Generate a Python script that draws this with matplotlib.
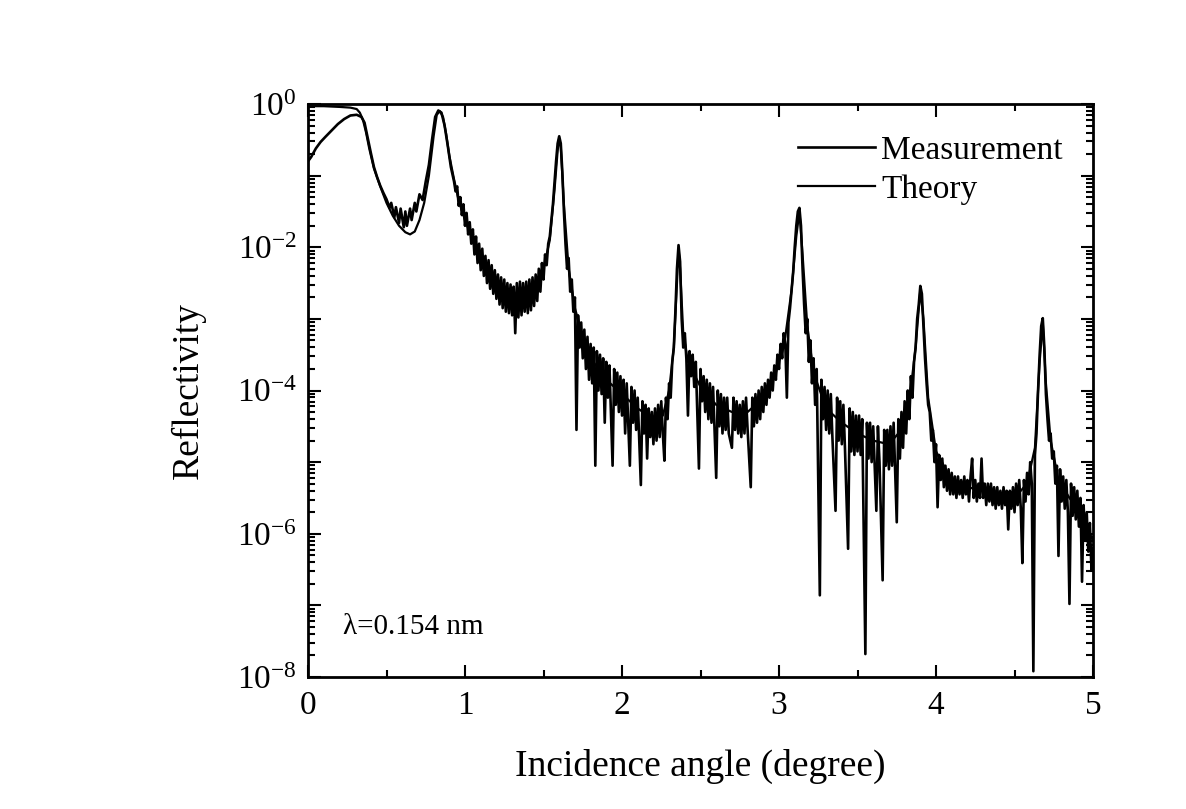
import numpy as np
import matplotlib
matplotlib.use("Agg")
import matplotlib.pyplot as plt
from matplotlib.ticker import LogLocator, FixedLocator, FuncFormatter, NullFormatter

plt.rcParams['font.family'] = ['Liberation Serif', 'DejaVu Serif']
plt.rcParams['mathtext.fontset'] = 'custom'
plt.rcParams['mathtext.rm'] = 'Liberation Serif'
plt.rcParams['mathtext.it'] = 'Liberation Serif:italic'

meas_angle = [
    0.00, 0.02, 0.05, 0.08, 0.11, 0.15, 0.19, 0.23, 0.27, 0.31, 0.34, 0.36,
    0.38, 0.40, 0.42, 0.44, 0.46, 0.48, 0.50, 0.52, 0.53, 0.55, 0.56, 0.58, 0.59, 0.61, 0.62, 0.63,
    0.65, 0.66, 0.68, 0.69, 0.71, 0.73, 0.75, 0.77, 0.79, 0.81, 0.83, 0.85, 0.87, 0.89, 0.91, 0.93,
    0.94, 0.95, 0.96, 0.97, 0.98, 0.99, 1.00, 1.01, 1.02, 1.03, 1.04, 1.05, 1.06, 1.07, 1.08, 1.09,
    1.10, 1.11, 1.12, 1.13, 1.14, 1.15, 1.16, 1.17, 1.18, 1.19, 1.20, 1.21, 1.22, 1.23, 1.24, 1.25,
    1.26, 1.27, 1.28, 1.29, 1.30, 1.31, 1.32, 1.33, 1.34, 1.35, 1.36, 1.37, 1.38, 1.39, 1.40, 1.41,
    1.42, 1.43, 1.44, 1.45, 1.46, 1.47, 1.48, 1.49, 1.50, 1.51, 1.52, 1.53, 1.54, 1.55, 1.56, 1.57,
    1.58, 1.59, 1.60, 1.61, 1.62, 1.63, 1.64,
    1.65, 1.66, 1.67, 1.68, 1.69, 1.70, 1.71, 1.72, 1.73, 1.74, 1.75, 1.76, 1.77, 1.78, 1.79, 1.80,
    1.81, 1.82, 1.83, 1.84, 1.85, 1.86, 1.87, 1.88, 1.89, 1.90, 1.91, 1.92, 1.94, 1.95, 1.96, 1.97,
    1.98, 1.99, 2.00, 2.01, 2.02, 2.03, 2.05, 2.06, 2.07, 2.08, 2.09, 2.10, 2.12, 2.13, 2.14, 2.15,
    2.16, 2.17, 2.18, 2.19, 2.20, 2.21, 2.22, 2.23, 2.24, 2.25, 2.26, 2.27, 2.28, 2.29, 2.30, 2.31,
    2.32, 2.33, 2.34, 2.35, 2.36, 2.37, 2.38, 2.39,
    2.40, 2.41, 2.42, 2.43, 2.44, 2.45, 2.46, 2.47, 2.49, 2.50, 2.51, 2.52, 2.53, 2.54, 2.55, 2.56,
    2.57, 2.58, 2.59, 2.60, 2.61, 2.62, 2.63, 2.64, 2.65, 2.66, 2.67, 2.68, 2.70, 2.71, 2.72, 2.73,
    2.74, 2.75, 2.76, 2.77, 2.78, 2.79, 2.80, 2.82, 2.83, 2.84, 2.85, 2.86, 2.87, 2.88, 2.89, 2.90,
    2.91, 2.92, 2.93, 2.94, 2.95, 2.96, 2.97, 2.98, 2.99, 3.00, 3.01, 3.02, 3.03, 3.04, 3.05, 3.06,
    3.07, 3.08, 3.09, 3.10, 3.11, 3.12, 3.13, 3.14, 3.15, 3.16, 3.17, 3.18, 3.19, 3.20,
    3.21, 3.22, 3.23, 3.24, 3.26, 3.27, 3.28, 3.29, 3.30, 3.31, 3.32, 3.33, 3.34, 3.36, 3.37, 3.38,
    3.39, 3.40, 3.41, 3.42, 3.44, 3.45, 3.46, 3.47, 3.48, 3.49, 3.50, 3.51, 3.52, 3.53, 3.55, 3.56,
    3.57, 3.58, 3.59, 3.60, 3.62, 3.63, 3.64, 3.66, 3.67, 3.68, 3.69, 3.70, 3.71, 3.72, 3.73, 3.75,
    3.76, 3.77, 3.78, 3.79, 3.80, 3.81, 3.82, 3.83, 3.84, 3.85, 3.86, 3.87, 3.88, 3.89, 3.90, 3.91,
    3.92, 3.93, 3.94, 3.95, 3.96, 3.97, 3.98, 3.99, 4.00, 4.01, 4.02,
    4.03, 4.04, 4.05, 4.06, 4.07, 4.08, 4.09, 4.10, 4.11, 4.12, 4.13, 4.14, 4.15, 4.16, 4.17, 4.18,
    4.19, 4.20, 4.21, 4.22, 4.23, 4.24, 4.25, 4.26, 4.27, 4.28, 4.29, 4.30, 4.31, 4.32, 4.33, 4.34,
    4.35, 4.36, 4.37, 4.38, 4.39, 4.40, 4.41, 4.42, 4.43, 4.44, 4.45, 4.46, 4.47, 4.48, 4.49, 4.50,
    4.51, 4.52, 4.53, 4.54, 4.55, 4.56, 4.57, 4.58, 4.59, 4.60, 4.61, 4.62, 4.63, 4.64, 4.65, 4.66,
    4.67, 4.68, 4.69, 4.70, 4.71, 4.72, 4.73, 4.74, 4.75,
    4.76, 4.77, 4.78, 4.79, 4.80, 4.81, 4.82, 4.83, 4.84, 4.85, 4.86, 4.87, 4.88, 4.89, 4.90, 4.91,
    4.92, 4.93, 4.94, 4.95, 4.96, 4.97, 4.98, 4.99, 5.00,
]
meas_log = [
    -0.80, -0.74, -0.62, -0.53, -0.46, -0.37, -0.28, -0.21, -0.16, -0.15, -0.18, -0.26,
    -0.47, -0.68, -0.88, -1.02, -1.14, -1.24, -1.33, -1.45, -1.38, -1.58, -1.44, -1.66, -1.46, -1.72, -1.50, -1.70,
    -1.46, -1.62, -1.38, -1.50, -1.26, -1.34, -1.08, -0.85, -0.50, -0.18, -0.09, -0.12, -0.30, -0.58, -0.88, -1.08,
    -1.22, -1.15, -1.42, -1.30, -1.55, -1.40, -1.70, -1.52, -1.82, -1.65, -1.95, -1.75, -2.10, -1.85, -2.22, -1.95,
    -2.32, -2.02, -2.40, -2.12, -2.50, -2.18, -2.58, -2.25, -2.65, -2.32, -2.72, -2.38, -2.80, -2.42, -2.85, -2.45,
    -2.90, -2.50, -2.92, -2.52, -2.95, -2.55, -3.20, -2.50, -2.98, -2.48, -2.95, -2.50, -2.90, -2.48, -2.92, -2.45,
    -2.88, -2.42, -2.82, -2.38, -2.75, -2.30, -2.62, -2.22, -2.45, -2.10, -2.25, -1.95, -1.85, -1.62, -1.40, -1.10,
    -0.80, -0.55, -0.45, -0.55, -0.95, -1.50, -1.95,
    -2.30, -2.15, -2.62, -2.45, -2.90, -2.70, -4.55, -2.95, -3.40, -3.05, -3.55, -3.15, -3.70, -3.25, -3.85, -3.35,
    -3.90, -3.40, -5.05, -3.45, -4.00, -3.50, -4.05, -3.55, -4.45, -3.60, -4.10, -3.65, -5.05, -3.70, -4.20, -3.75,
    -4.30, -3.80, -4.35, -3.85, -4.60, -3.90, -5.05, -3.95, -4.45, -4.00, -4.55, -4.10, -5.32, -4.15, -4.60, -4.20,
    -4.95, -4.25, -4.65, -4.30, -4.75, -4.25, -4.70, -4.20, -4.65, -4.15, -4.60, -4.98, -4.10, -4.40, -3.90, -4.10,
    -3.60, -3.40, -2.90, -2.30, -1.97, -2.20, -3.00, -3.40,
    -3.20, -3.56, -4.35, -3.45, -3.80, -3.50, -3.95, -3.60, -5.09, -3.70, -4.15, -3.80, -4.30, -3.85, -4.40, -3.90,
    -4.45, -3.95, -4.60, -5.22, -4.00, -4.50, -4.05, -4.60, -4.10, -4.55, -4.10, -4.60, -4.80, -4.10, -4.55, -4.15,
    -4.60, -4.20, -4.65, -4.15, -4.60, -4.10, -4.55, -5.35, -4.10, -4.50, -4.05, -4.45, -4.00, -4.40, -3.95, -4.30,
    -3.90, -4.20, -3.85, -4.10, -3.75, -4.00, -3.65, -3.85, -3.50, -3.70, -3.35, -3.55, -3.20, -3.35, -4.10, -3.05,
    -2.85, -2.60, -2.35, -2.00, -1.70, -1.50, -1.45, -1.70, -2.30, -2.80, -3.20, -3.00, -3.60, -3.30,
    -3.90, -3.55, -4.20, -3.70, -6.86, -3.85, -4.40, -3.95, -4.55, -4.00, -4.60, -4.05, -4.65, -5.68, -4.10, -4.70,
    -4.15, -4.75, -4.20, -4.80, -6.21, -4.25, -4.85, -4.30, -4.90, -4.35, -4.85, -4.35, -4.90, -4.40, -7.68, -4.45,
    -4.95, -4.45, -5.00, -4.50, -5.68, -4.50, -5.00, -6.65, -4.55, -5.05, -4.55, -5.10, -4.50, -5.05, -4.45, -5.84,
    -4.40, -4.95, -4.30, -4.80, -4.15, -4.60, -4.00, -4.40, -3.80, -4.10, -3.60, -3.40, -3.00, -2.80, -2.54, -2.65,
    -3.10, -3.55, -3.90, -4.20, -4.30, -4.70, -4.55, -5.00, -4.75, -5.63, -4.90,
    -5.25, -4.95, -5.35, -5.05, -5.40, -5.10, -5.45, -5.15, -5.45, -5.20, -5.50, -5.20, -5.45, -5.25, -5.50, -5.20,
    -5.45, -5.25, -5.55, -5.20, -4.95, -5.50, -5.25, -5.55, -5.30, -5.50, -4.95, -5.50, -5.30, -5.60, -5.30, -5.55,
    -5.30, -5.60, -5.35, -5.65, -5.35, -5.60, -5.40, -5.65, -5.35, -5.60, -5.40, -5.94, -5.40, -5.65, -5.35, -5.70,
    -5.30, -5.60, -5.25, -5.65, -6.41, -5.25, -5.55, -5.15, -5.45, -5.00, -5.30, -7.92, -4.90, -4.60, -4.00, -3.50,
    -3.10, -2.99, -3.40, -4.05, -4.40, -4.70, -4.60, -4.95, -4.85,
    -5.30, -5.05, -6.31, -5.10, -5.55, -5.20, -5.65, -5.25, -5.70, -6.98, -5.30, -5.75, -5.35, -5.80, -5.40, -5.90,
    -5.50, -6.67, -5.60, -6.10, -5.70, -6.25, -5.85, -6.50, -6.20,
]

# Theory curve
theo_angle = [
    0.00, 0.10, 0.20, 0.27, 0.31, 0.33, 0.35, 0.37, 0.39, 0.42, 0.46, 0.50, 0.54, 0.58, 0.62, 0.65,
    0.68, 0.71, 0.74, 0.77, 0.80, 0.82, 0.84, 0.86, 0.88, 0.90, 0.93, 0.96, 1.00, 1.05, 1.10, 1.15,
    1.20, 1.25, 1.30, 1.35, 1.40, 1.45, 1.50, 1.54, 1.57, 1.59, 1.60, 1.61, 1.63, 1.66, 1.70, 1.75,
    1.80, 1.90, 2.00, 2.10, 2.20, 2.26, 2.30, 2.33, 2.35, 2.36, 2.37, 2.39, 2.42, 2.50, 2.60, 2.70,
    2.80, 2.90, 2.98, 3.04, 3.08, 3.11, 3.13, 3.15, 3.18, 3.22, 3.30, 3.40, 3.50, 3.60, 3.70, 3.78,
    3.83, 3.87, 3.90, 3.92, 3.95, 4.00, 4.10, 4.20, 4.30, 4.40, 4.50, 4.58, 4.63, 4.66, 4.68, 4.70,
    4.73, 4.78, 4.85, 4.92, 5.00,
]
theo_log = [
    -0.03, -0.03, -0.04, -0.05, -0.07, -0.12, -0.22, -0.40, -0.62, -0.90, -1.15, -1.38, -1.56, -1.70, -1.79, -1.82,
    -1.78, -1.62, -1.38, -1.00, -0.45, -0.15, -0.10, -0.18, -0.42, -0.72, -1.05, -1.35, -1.62, -1.90, -2.15, -2.35,
    -2.52, -2.65, -2.72, -2.74, -2.70, -2.58, -2.30, -1.90, -1.20, -0.65, -0.48, -0.60, -1.40, -2.30, -2.85, -3.25,
    -3.55, -3.85, -4.05, -4.25, -4.40, -4.35, -4.00, -3.40, -2.50, -2.02, -2.30, -3.20, -3.60, -3.95, -4.20, -4.30,
    -4.30, -4.10, -3.75, -3.25, -2.60, -1.85, -1.50, -2.10, -3.10, -3.75, -4.25, -4.45, -4.60, -4.70, -4.75, -4.55,
    -4.15, -3.40, -2.60, -3.00, -4.10, -4.85, -5.25, -5.35, -5.40, -5.50, -5.50, -5.30, -4.80, -3.60, -3.05, -3.90,
    -4.70, -5.25, -5.50, -5.70, -6.10,
]

meas_R = 10.0 ** np.array(meas_log)
theo_R = 10.0 ** np.array(theo_log)

fig = plt.figure(figsize=(11.86, 8.09), dpi=100)
ax = fig.add_axes([0.2597, 0.1632, 0.6619, 0.7082])

ax.plot(meas_angle, meas_R, color='black', lw=1.9, label='Measurement')
ax.plot(theo_angle, theo_R, color='black', lw=1.6, label='Theory')

ax.set_yscale('log')
ax.set_xlim(0, 5)
ax.set_ylim(1e-8, 1e0)

ax.xaxis.set_major_locator(FixedLocator([0, 1, 2, 3, 4, 5]))
ax.xaxis.set_minor_locator(FixedLocator([0.5, 1.5, 2.5, 3.5, 4.5]))
ax.yaxis.set_major_locator(LogLocator(base=10, numticks=20))
ax.yaxis.set_minor_locator(LogLocator(base=10, subs=np.arange(2, 10), numticks=20))
ax.yaxis.set_minor_formatter(NullFormatter())


def ylab(v, pos):
    e = int(round(np.log10(v)))
    if e % 2 != 0:
        return ''
    return r'$\mathregular{10^{%d}}$' % e


ax.yaxis.set_major_formatter(FuncFormatter(ylab))

ax.tick_params(which='both', direction='in', top=True, right=True, width=1.5)
ax.tick_params(which='major', length=9, labelsize=24)
ax.tick_params(axis='x', which='major', pad=10)
ax.tick_params(axis='y', which='major', pad=8)
ax.tick_params(which='minor', length=5)
for s in ax.spines.values():
    s.set_linewidth(2.0)

ax.set_xlabel('Incidence angle (degree)', fontsize=27, labelpad=20)
ax.set_ylabel('Reflectivity', fontsize=27, labelpad=22)

ax.text(0.045, 0.087, 'λ=0.154 nm', transform=ax.transAxes, fontsize=21,
        va='center', ha='left')

ax.legend(loc='upper right', bbox_to_anchor=(1.0, 0.998), frameon=False,
          fontsize=24, handlelength=2.3, handletextpad=0.2, labelspacing=0.25)

fig.savefig('out.png', dpi=100)
